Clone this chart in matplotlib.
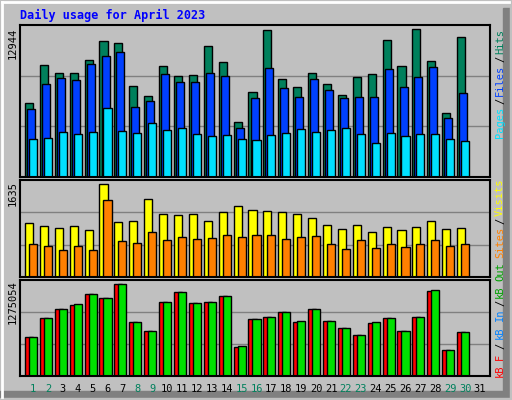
"""Webalizer-style daily usage chart for April 2023."""

import matplotlib
matplotlib.use("Agg")
import matplotlib.pyplot as plt
from matplotlib.patches import Rectangle
from matplotlib.lines import Line2D

days = list(range(1, 32))
weekend_days = [1, 2, 8, 9, 15, 16, 22, 23, 29, 30]

# day 31 has no data yet
hits = [6475, 9800, 9100, 9100, 10240, 11900, 11725, 7960, 7090, 9710, 8840, 8925, 11460, 10060, 4810,
        7440, 12860, 8575, 7875, 9100, 8140, 7175, 8750, 9010, 11990, 9710, 12944, 10150, 5600, 12250]
files = [5950, 8140, 8660, 8490, 9890, 10590, 10940, 6125, 6650, 9010, 8310, 8310, 9100, 8840, 4290,
         6910, 9540, 7790, 7000, 8575, 7610, 6910, 7000, 7000, 9450, 7875, 8750, 9625, 5160, 7350]
pages = [3325, 3410, 3940, 3760, 3940, 6040, 4025, 3850, 4725, 4110, 4290, 3760, 3590, 3675, 3325,
         3240, 3675, 3850, 4200, 3940, 4110, 4290, 3760, 2975, 3850, 3590, 3760, 3760, 3325, 3150]

visits = [949, 897, 861, 897, 826, 1635, 967, 984, 1371, 1108, 1090, 1108, 984, 1143, 1248,
          1178, 1160, 1143, 1108, 1037, 914, 844, 914, 791, 879, 826, 879, 984, 844, 861]
sites = [580, 545, 475, 545, 475, 1354, 633, 598, 791, 650, 703, 668, 686, 738, 703,
         738, 738, 668, 703, 721, 580, 492, 650, 510, 580, 527, 580, 650, 545, 580]

kb_f = [540500, 803800, 928500, 984000, 1136400, 1081000, 1275054, 748400, 623600, 1025500, 1164100,
        1011700, 1025500, 1108700, 401900, 789900, 817700, 886900, 748400, 928500, 762200, 665200,
        568200, 734500, 803800, 623600, 817700, 1178000, 360300, 609800]
kb_in = [540500, 803800, 928500, 997800, 1136400, 1081000, 1275054, 748400, 623600, 1025500, 1164100,
         1011700, 1025500, 1108700, 415800, 789900, 817700, 886900, 762200, 928500, 762200, 665200,
         568200, 748400, 803800, 623600, 817700, 1191900, 360300, 609800]

BG = "#c0c0c0"
W, H = 512, 400
fig = plt.figure(figsize=(W / 100, H / 100), dpi=100, facecolor=BG)
mono = "DejaVu Sans Mono"

# 3D frame
fig.add_artist(Line2D([2 / W, 2 / W], [3 / H, 1 - 2 / H], color="white", lw=2))
fig.add_artist(Line2D([2 / W, 1 - 3 / W], [1 - 2 / H, 1 - 2 / H], color="white", lw=2))
fig.add_artist(Rectangle((1 - 9 / W, 0), 9 / W, 1 - 8 / H, color="#808080", transform=fig.transFigure))
fig.add_artist(Rectangle((0, 0), 1, 9 / H, color="#808080", transform=fig.transFigure))
fig.add_artist(Rectangle((0, 0), 1, 2 / H, color=BG, transform=fig.transFigure))
fig.add_artist(Rectangle((1 - 2 / W, 0), 2 / W, 1, color=BG, transform=fig.transFigure))

fig.text(20 / W, 1 - 15 / H, "Daily usage for April 2023", color="#0000ff", family=mono,
         fontsize=8.5, fontweight="bold", va="center")

XL, XR = 20, 490
x_lo = 1 - 13 / 14.9
x_hi = 1 + (XR - 33) / 14.9
w = 0.54


def panel(top, bottom, top_val, scale_px):
    ax = fig.add_axes([XL / W, 1 - bottom / H, (XR - XL) / W, (bottom - top) / H])
    ax.set_facecolor(BG)
    ymax = top_val * (bottom - top) / scale_px
    ax.set_xlim(x_lo, x_hi)
    ax.set_ylim(0, ymax)
    for f in (1 / 3, 2 / 3):
        ax.axhline(ymax * f, color="#808080", lw=1, zorder=0)
    ax.set_xticks([])
    ax.set_yticks([])
    for s in ax.spines.values():
        s.set_linewidth(1.5)
    return ax


def bars(ax, vals, offset, color):
    ax.bar([d + offset for d in days[:len(vals)]], vals, width=w, align="edge",
           color=color, edgecolor="black", linewidth=1, zorder=2)


ax1 = panel(25, 177, 12944, 148)
bars(ax1, hits, -0.54, "#00805c")
bars(ax1, files, -0.40, "#0040ff")
bars(ax1, pages, -0.27, "#00e0ff")

ax2 = panel(180, 277, 1635, 93)
bars(ax2, visits, -0.54, "#ffff00")
bars(ax2, sites, -0.27, "#ff8000")

ax3 = panel(280, 376, 1275054, 92)
bars(ax3, kb_f, -0.54, "#ff0000")
bars(ax3, kb_in, -0.27, "#00e000")

for d in days:
    fig.text((33 + 14.9 * (d - 1)) / W, 1 - 389 / H, str(d), ha="center", va="center",
             family=mono, fontsize=7.5, color="#00805c" if d in weekend_days else "black")

for label, y in (("12944", 43), ("1635", 194), ("1275054", 302)):
    fig.text(13 / W, 1 - y / H, label, rotation=90, ha="center", va="center", family=mono, fontsize=7.5)

right_labels = [
    ("Hits", 41, "#00805c"), ("/", 59, "black"), ("Files", 80, "#0040ff"), ("/", 101, "black"),
    ("Pages", 122, "#00e0ff"),
    ("Visits", 197, "#ffff00"), ("/", 221, "black"), ("Sites", 242, "#ff8000"),
    ("Out", 272, "#00a000"), ("kB", 292, "#00a000"), ("/", 303, "black"), ("In", 315, "#0080ff"),
    ("kB", 333, "#0080ff"), ("/", 346, "black"), ("F", 357, "#ff0000"), ("kB", 371, "#ff0000"),
]
for label, y, color in right_labels:
    fig.text(500 / W, 1 - y / H, label, rotation=90, ha="center", va="center", family=mono,
             fontsize=7.5, color=color)

fig.savefig("out.png", dpi=100, facecolor=BG)
